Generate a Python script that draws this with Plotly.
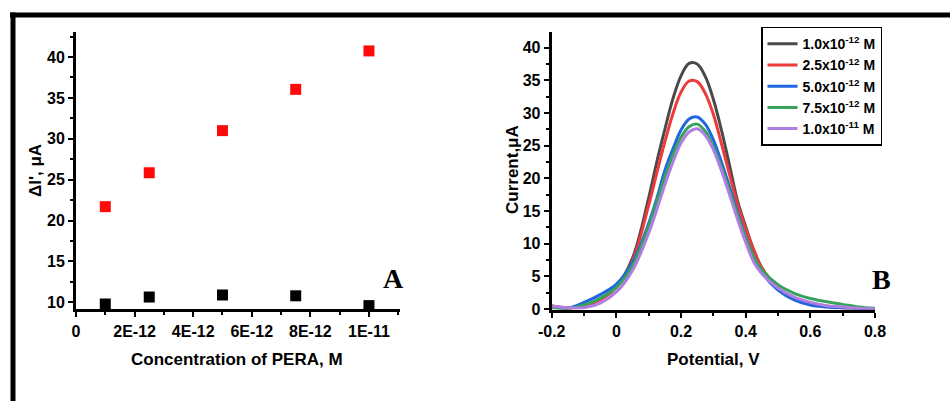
import plotly.graph_objects as go

# ---------------- Panel A data ----------------
conc_A = [1.0e-12, 2.5e-12, 5.0e-12, 7.5e-12, 1.0e-11]
delta_red = [21.7, 25.85, 31.0, 36.05, 40.75]
delta_black = [9.8, 10.65, 10.9, 10.8, 9.6]
xA_tickvals = [0, 2e-12, 4e-12, 6e-12, 8e-12, 1e-11]
xA_ticktext = ["0", "2E-12", "4E-12", "6E-12", "8E-12", "1E-11"]

# ---------------- Panel B data ----------------
potential = [-0.20, -0.15, -0.10, -0.05, 0.00, 0.05, 0.10, 0.125, 0.15, 0.175,
             0.20, 0.225, 0.25, 0.275, 0.30, 0.325, 0.35, 0.375, 0.40, 0.425,
             0.45, 0.50, 0.55, 0.60, 0.65, 0.70, 0.75, 0.80]
cur_10e12 = [0.3, 0.1, 0.5, 1.6, 3.4, 7.8, 17.0, 22.5, 27.5, 32.2,
             35.7, 37.6, 37.5, 35.6, 32.1, 27.4, 22.0, 16.5, 12.6, 9.0,
             6.3, 3.1, 1.6, 0.9, 0.4, 0.2, 0.1, 0.0]
cur_25e12 = [0.5, 0.1, 0.4, 1.4, 3.3, 7.4, 15.9, 20.8, 25.6, 29.9,
             33.2, 34.9, 34.8, 33.0, 29.8, 25.3, 20.6, 16.0, 12.3, 9.0,
             6.3, 3.2, 1.7, 0.8, 0.4, 0.2, 0.1, 0.0]
cur_50e12 = [0.3, 0.15, 1.0, 2.2, 3.8, 7.1, 13.1, 16.9, 21.2, 24.5,
             27.4, 29.1, 29.4, 28.3, 25.9, 22.5, 18.7, 14.7, 11.0, 7.9,
             5.6, 2.9, 1.4, 0.6, 0.3, 0.15, 0.05, 0.0]
cur_75e12 = [0.2, 0.1, 0.6, 1.6, 3.3, 6.6, 12.7, 16.4, 20.2, 23.6,
             26.3, 27.9, 28.3, 27.2, 24.9, 21.7, 18.1, 14.3, 10.8, 8.0,
             6.0, 3.7, 2.4, 1.6, 1.1, 0.7, 0.3, 0.1]
cur_10e11 = [0.4, 0.2, 0.2, 0.9, 2.6, 5.9, 11.6, 15.2, 19.0, 22.5,
             25.4, 27.1, 27.6, 26.6, 24.4, 21.2, 17.5, 13.7, 10.2, 7.2,
             5.4, 3.2, 1.8, 1.0, 0.5, 0.3, 0.1, 0.0]
series_B = [
    ("1.0x10<sup>-12</sup> M", cur_10e12, "#4a4a4a"),
    ("2.5x10<sup>-12</sup> M", cur_25e12, "#ef3a3a"),
    ("5.0x10<sup>-12</sup> M", cur_50e12, "#2166e0"),
    ("7.5x10<sup>-12</sup> M", cur_75e12, "#35a35c"),
    ("1.0x10<sup>-11</sup> M", cur_10e11, "#b07de2"),
]

FONT = "Liberation Sans, Arial, sans-serif"
SERIF = "Liberation Serif, Times New Roman, serif"
W, H = 950, 401


def px_x(p):
    return p / W


def px_y(p):
    return 1 - p / H


fig = go.Figure()

# Panel A scatter
fig.add_trace(go.Scatter(x=conc_A, y=delta_red, mode="markers", xaxis="x", yaxis="y",
                         marker=dict(symbol="square", size=11, color="#ff0a0a"),
                         cliponaxis=False, showlegend=False))
fig.add_trace(go.Scatter(x=conc_A, y=delta_black, mode="markers", xaxis="x", yaxis="y",
                         marker=dict(symbol="square", size=11, color="#000000"),
                         cliponaxis=False, showlegend=False))

# Panel B voltammograms
for name, vals, col in series_B:
    fig.add_trace(go.Scatter(x=potential, y=vals, mode="lines", name="<b>" + name + "</b>",
                             xaxis="x2", yaxis="y2",
                             line=dict(color=col, width=3, shape="spline", smoothing=1.0)))

tick_font = dict(family=FONT, size=16, color="black", weight="bold")
minor_ticks = dict(ticklen=3, tickwidth=1.5, tickcolor="black", ticks="outside")
axis_common = dict(showline=True, linecolor="black", linewidth=3, ticks="outside",
                   ticklen=5, tickwidth=2, tickcolor="black", showgrid=False, zeroline=False,
                   tickfont=tick_font, automargin=False)

fig.update_layout(
    width=W, height=H, margin=dict(l=0, r=0, t=0, b=0, autoexpand=False),
    paper_bgcolor="white", plot_bgcolor="white",
    xaxis=dict(domain=[px_x(76), px_x(400)], range=[0, 1.106e-11], anchor="y",
               tickmode="array", tickvals=xA_tickvals, ticktext=xA_ticktext,
               minor=dict(dtick=1e-12, tick0=0, **minor_ticks), **axis_common),
    yaxis=dict(domain=[px_y(309.3), px_y(31.7)], range=[9.15, 43.1], anchor="x",
               dtick=5, tick0=0, minor=dict(dtick=2.5, tick0=0, **minor_ticks), **axis_common),
    xaxis2=dict(domain=[px_x(551.7), px_x(875)], range=[-0.2, 0.8], anchor="y2",
                tickmode="array", tickvals=[-0.2, 0, 0.2, 0.4, 0.6, 0.8],
                ticktext=["-0.2", "0", "0.2", "0.4", "0.6", "0.8"],
                minor=dict(dtick=0.1, tick0=0, **minor_ticks), **axis_common),
    yaxis2=dict(domain=[px_y(309.6), px_y(31.7)], range=[-0.1, 42.45], anchor="x2",
                dtick=5, tick0=0, minor=dict(dtick=2.5, tick0=0, **minor_ticks), **axis_common),
    legend=dict(x=px_x(761), y=px_y(26.7), xanchor="left", yanchor="top",
                bgcolor="white", bordercolor="black", borderwidth=1.5,
                font=dict(family=FONT, size=14, color="black"),
                itemwidth=30, tracegroupgap=0),
    showlegend=True,
)

title_font = dict(family=FONT, size=17, color="black")


def label(text, x, y, angle=0, font=title_font):
    fig.add_annotation(text=text, x=px_x(x), y=px_y(y), xref="paper", yref="paper",
                       xanchor="center", yanchor="middle", textangle=angle,
                       showarrow=False, font=font)


label("<b>ΔI', μA</b>", 35, 171, -90)
label("<b>Concentration of PERA, M</b>", 237, 359)
label("<b>Current,μA</b>", 512, 170, -90)
label("<b>Potential, V</b>", 713, 359)
label("<b>A</b>", 393, 278, 0, dict(family=SERIF, size=28, color="black"))
label("<b>B</b>", 881, 279, 0, dict(family=SERIF, size=28, color="black"))

# Outer frame lines (top and left edges)
fig.add_shape(type="line", xref="paper", yref="paper", x0=px_x(10), x1=1.0,
              y0=px_y(15), y1=px_y(15), line=dict(color="black", width=5))
fig.add_shape(type="line", xref="paper", yref="paper", x0=px_x(13), x1=px_x(13),
              y0=px_y(12.5), y1=0, line=dict(color="black", width=5))

fig.write_html("out.html")
